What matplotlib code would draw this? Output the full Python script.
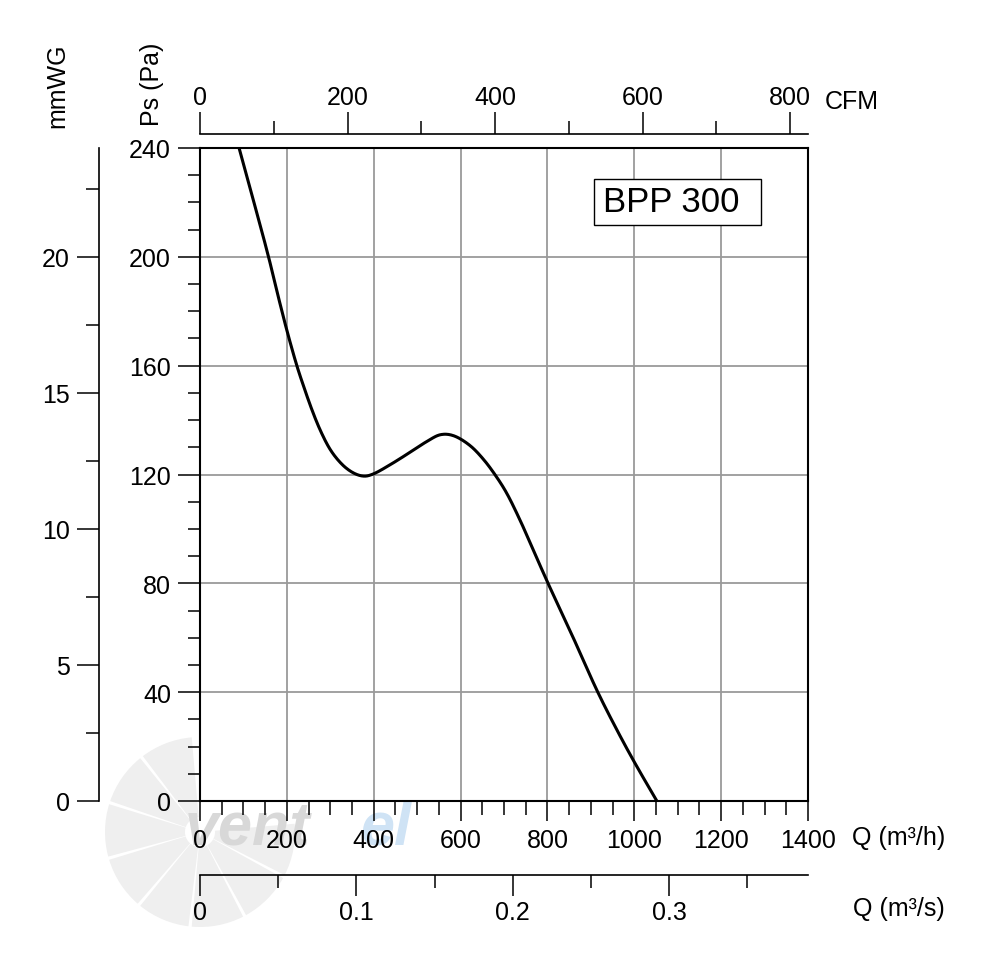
import matplotlib
matplotlib.use("Agg")
import matplotlib.pyplot as plt
import numpy as np
from matplotlib.patches import Rectangle, Wedge

plt.rcParams['font.family'] = ['Liberation Sans', 'DejaVu Sans']

# ---- data ----
q_m3h = [90, 157, 180, 200, 223, 238, 257, 276, 299, 326, 353, 378, 399, 441,
         484, 522, 553, 583, 622, 652, 679, 706, 737, 767, 802, 860, 916, 967,
         1003, 1052]
ps_pa = [240, 200.5, 185.5, 173, 160, 152.7, 144.1, 136.6, 129.4, 123.9, 120.6,
         119.4, 120.2, 123.9, 128.2, 132.1, 134.6, 134.3, 130.6, 125.7, 120,
         113.2, 103.2, 92.4, 79.8, 59.8, 40, 24.0, 13.5, 0]

q_ticks = [0, 200, 400, 600, 800, 1000, 1200, 1400]
ps_ticks = [0, 40, 80, 120, 160, 200, 240]
mmwg_ticks = [0, 5, 10, 15, 20]
cfm_ticks = [0, 200, 400, 600, 800]
m3s_ticks = [0, 0.1, 0.2, 0.3]
model_name = "BPP 300"


def catmull_rom(x, y, n=20):
    """Smooth drawing path through the given points (centripetal Catmull-Rom)."""
    P = np.column_stack([x, y]).astype(float)
    P = np.vstack([2 * P[0] - P[1], P, 2 * P[-1] - P[-2]])
    out = []
    for i in range(1, len(P) - 2):
        p0, p1, p2, p3 = P[i - 1], P[i], P[i + 1], P[i + 2]
        t0 = 0.0
        t1 = t0 + np.linalg.norm(p1 - p0) ** 0.5
        t2 = t1 + np.linalg.norm(p2 - p1) ** 0.5
        t3 = t2 + np.linalg.norm(p3 - p2) ** 0.5
        t = np.linspace(t1, t2, n, endpoint=False)[:, None]
        A1 = (t1 - t) / (t1 - t0) * p0 + (t - t0) / (t1 - t0) * p1
        A2 = (t2 - t) / (t2 - t1) * p1 + (t - t1) / (t2 - t1) * p2
        A3 = (t3 - t) / (t3 - t2) * p2 + (t - t2) / (t3 - t2) * p3
        B1 = (t2 - t) / (t2 - t0) * A1 + (t - t0) / (t2 - t0) * A2
        B2 = (t3 - t) / (t3 - t1) * A2 + (t - t1) / (t3 - t1) * A3
        C = (t2 - t) / (t2 - t1) * B1 + (t - t1) / (t2 - t1) * B2
        out.append(C)
    out.append(P[-2][None, :])
    C = np.vstack(out)
    return C[:, 0], C[:, 1]


W, H = 981, 962
fig = plt.figure(figsize=(W / 100, H / 100), dpi=100)


def fx(x):
    return x / W


def fy(y):
    return 1 - y / H


px = 0.72  # points per pixel at dpi 100
FS = 18

# ---- watermark (faint logo) ----
wm = fig.add_axes([0, 0, 1, 1], zorder=0)
wm.set_xlim(0, W)
wm.set_ylim(0, H)
wm.axis('off')
cx, cy = 200, H - 833
for ang in range(95, 335, 34):
    wm.add_patch(Wedge((cx, cy), 95, ang, ang + 32, width=80,
                       facecolor='#efefef', edgecolor='none'))
wm.text(185, H - 829, "vent", fontsize=44, fontweight='bold', style='italic',
        color='#d8d8d8', va='center', ha='left')
wm.text(360, H - 829, "el", fontsize=44, fontweight='bold', style='italic',
        color='#cfe3f5', va='center', ha='left')

# ---- main axes ----
xmax = 1400
ymax = 240
ax = fig.add_axes([fx(200), fy(802), fx(808) - fx(200), fy(149) - fy(802)], zorder=2)
ax.set_facecolor('none')
ax.set_xlim(0, xmax)
ax.set_ylim(0, ymax)
sx, sy = catmull_rom(q_m3h, ps_pa)
ax.plot(sx, sy, color='black', lw=2.2, solid_capstyle='butt', zorder=3)

ax.set_xticks(q_ticks)
ax.set_xticks(np.arange(0, xmax + 1, 50), minor=True)
ax.set_yticks(ps_ticks)
ax.set_yticks(np.arange(0, ymax + 1, 10), minor=True)
ax.set_xticklabels([str(t) for t in q_ticks], fontsize=FS)
ax.set_yticklabels([str(t) for t in ps_ticks], fontsize=FS)
ax.grid(which='major', color='#9a9a9a', lw=1.3)
ax.set_axisbelow(True)
for s in ax.spines.values():
    s.set_linewidth(1.5)
    s.set_color('black')
    s.set_zorder(4)
ax.tick_params(axis='x', which='major', direction='out', length=20 * px, width=1.1, pad=5)
ax.tick_params(axis='x', which='minor', direction='out', length=14 * px, width=1.1)
ax.tick_params(axis='y', which='major', direction='out', length=22 * px, width=1.1, pad=5)
ax.tick_params(axis='y', which='minor', direction='out', length=12 * px, width=1.1)

ax.add_patch(Rectangle((0.648, 0.882), 0.275, 0.0705, transform=ax.transAxes,
                       facecolor='white', edgecolor='black', lw=1.0, zorder=5))
ax.text(0.663, 0.918, model_name, transform=ax.transAxes, fontsize=25,
        va='center', ha='left', zorder=6)

# ---- mmWG axis ----
axm = fig.add_axes([fx(99), fy(802), 0.0001, fy(149) - fy(802)], zorder=2)
axm.set_facecolor('none')
axm.set_ylim(0, ymax / 10)
axm.set_xticks([])
for k in ['top', 'right', 'bottom']:
    axm.spines[k].set_visible(False)
axm.spines['left'].set_linewidth(1.2)
axm.set_yticks(mmwg_ticks)
axm.set_yticks(np.arange(0, 24.1, 2.5), minor=True)
axm.set_yticklabels([str(t) for t in mmwg_ticks], fontsize=FS)
axm.tick_params(axis='y', which='major', length=22 * px, width=1.1, pad=5)
axm.tick_params(axis='y', which='minor', length=13 * px, width=1.1)

# ---- CFM axis (top) ----
axc = fig.add_axes([fx(200), fy(135), fx(808) - fx(200), 0.0001], zorder=2)
axc.set_facecolor('none')
axc.set_xlim(0, xmax / 1.69901)
axc.set_yticks([])
for k in ['left', 'right', 'bottom']:
    axc.spines[k].set_visible(False)
axc.spines['top'].set_linewidth(1.2)
axc.xaxis.tick_top()
axc.set_xticks(cfm_ticks)
axc.set_xticks(np.arange(0, 801, 100), minor=True)
axc.set_xticklabels([str(t) for t in cfm_ticks], fontsize=FS)
axc.tick_params(axis='x', which='major', length=22 * px, width=1.1, pad=2)
axc.tick_params(axis='x', which='minor', length=13 * px, width=1.1)

# ---- m3/s axis (bottom) ----
axs = fig.add_axes([fx(200), fy(876), fx(808) - fx(200), 0.0001], zorder=2)
axs.set_facecolor('none')
axs.set_xlim(0, xmax / 3600)
axs.set_yticks([])
for k in ['left', 'right', 'top']:
    axs.spines[k].set_visible(False)
axs.spines['bottom'].set_linewidth(1.2)
axs.set_xticks(m3s_ticks)
axs.set_xticks(np.arange(0, 0.38, 0.05), minor=True)
axs.set_xticklabels([str(t) for t in m3s_ticks], fontsize=FS)
axs.tick_params(axis='x', which='major', length=21 * px, width=1.1, pad=3)
axs.tick_params(axis='x', which='minor', length=13 * px, width=1.1)

# ---- axis titles ----
fig.text(fx(852), fy(838), "Q (m³/h)", fontsize=FS, va='center', ha='left')
fig.text(fx(853), fy(909), "Q (m³/s)", fontsize=FS, va='center', ha='left')
fig.text(fx(825), fy(102), "CFM", fontsize=FS, va='center', ha='left')
fig.text(fx(152), fy(84), "Ps (Pa)", fontsize=FS, va='center', ha='center', rotation=90)
fig.text(fx(57), fy(86), "mmWG", fontsize=FS, va='center', ha='center', rotation=90)

fig.savefig("out.png", dpi=100)
